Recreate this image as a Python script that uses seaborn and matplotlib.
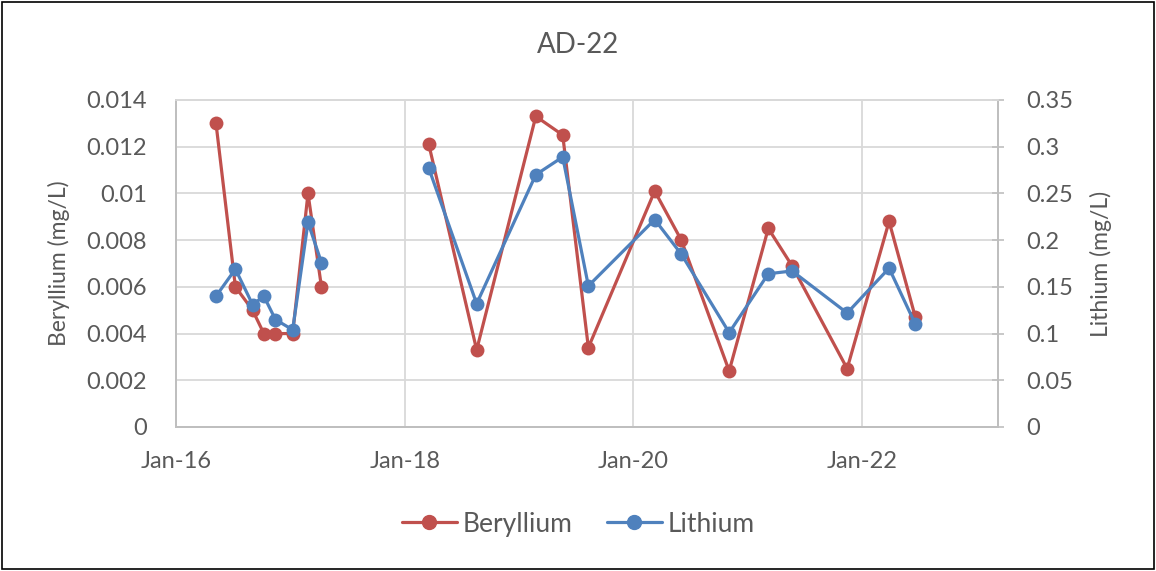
import pandas as pd
import matplotlib.pyplot as plt
import matplotlib.dates as mdates
from matplotlib.lines import Line2D
from matplotlib.patches import Rectangle
import seaborn as sns

# -------------------------------
# Data
# -------------------------------
dates = ['2016-05-08', '2016-07-09', '2016-09-02', '2016-10-08', '2016-11-14',
         '2017-01-08', '2017-02-26', '2017-04-10',
         '2018-03-19', '2018-08-19', '2019-02-24', '2019-05-21', '2019-08-11',
         '2020-03-10', '2020-06-03', '2020-11-03', '2021-03-08', '2021-05-23',
         '2021-11-15', '2022-03-29', '2022-06-21']
beryllium = [0.013, 0.006, 0.005, 0.004, 0.004, 0.004, 0.010, 0.006,
             0.0121, 0.0033, 0.0133, 0.0125, 0.0034,
             0.0101, 0.008, 0.0024, 0.0085, 0.0069, 0.0025, 0.0088, 0.0047]
lithium = [0.14, 0.169, 0.131, 0.14, 0.115, 0.104, 0.219, 0.176,
           0.277, 0.132, 0.27, 0.289, 0.151,
           0.222, 0.185, 0.101, 0.164, 0.167, 0.122, 0.17, 0.11]
# gap in the record between Apr-17 and Mar-18 splits the line in two
segment = [0] * 8 + [1] * 13

be_labels = ['0', '0.002', '0.004', '0.006', '0.008', '0.01', '0.012', '0.014']
li_labels = ['0', '0.05', '0.1', '0.15', '0.2', '0.25', '0.3', '0.35']
x_ticks = ['2016-01-01', '2018-01-01', '2020-01-01', '2022-01-01']

df = pd.DataFrame({'Date': pd.to_datetime(dates), 'Beryllium': beryllium,
                   'Lithium': lithium, 'Segment': segment})

RED = '#C0504D'
BLUE = '#4F81BD'
TXT = '#595959'
GRID = '#D9D9D9'
SPINE = '#BFBFBF'

sns.set_style('white')
plt.rcParams['font.family'] = ['Lato', 'DejaVu Sans']

fig = plt.figure(figsize=(11.56, 5.71), dpi=100)
ax = fig.add_axes([0.1522, 0.2522, 0.7111, 0.5727])
ax2 = ax.twinx()

sns.lineplot(data=df, x='Date', y='Beryllium', units='Segment', estimator=None,
             color=RED, marker='o', markersize=10, linewidth=2.3,
             markeredgewidth=0, ax=ax, zorder=3)
sns.lineplot(data=df, x='Date', y='Lithium', units='Segment', estimator=None,
             color=BLUE, marker='o', markersize=10, linewidth=2.3,
             markeredgewidth=0, ax=ax2, zorder=3)

# left axis
ax.set_ylim(0, 0.014)
ax.set_yticks([float(v) for v in be_labels])
ax.set_yticklabels(be_labels)
ax.set_xlim(pd.Timestamp('2016-01-01'), pd.Timestamp('2023-03-12'))
ax.set_xticks(pd.to_datetime(x_ticks))
ax.xaxis.set_major_formatter(mdates.DateFormatter('%b-%y'))
ax.grid(True, color=GRID, linewidth=1.3)
ax.set_axisbelow(True)
ax.set_xlabel('')
ax.set_ylabel('Beryllium (mg/L)', fontsize=16.5, color=TXT)
ax.yaxis.set_label_coords(-0.129, 0.5)
ax.tick_params(axis='y', length=0, labelsize=17, colors=TXT, pad=21)
ax.tick_params(axis='x', length=0, labelsize=17, colors=TXT, pad=17)

# right axis
ax2.set_ylim(0, 0.35)
ax2.set_yticks([float(v) for v in li_labels])
ax2.set_yticklabels(li_labels)
ax2.set_ylabel('Lithium (mg/L)', fontsize=16.5, color=TXT)
ax2.yaxis.set_label_coords(1.112, 0.5)
ax2.tick_params(axis='y', direction='inout', length=8, width=1.2, color=SPINE,
                labelsize=17, labelcolor=TXT, pad=16)
ax2.grid(False)

for a in (ax, ax2):
    for side, sp in a.spines.items():
        sp.set_color(SPINE)
        sp.set_linewidth(1.3)
    a.spines['top'].set_color(GRID)

fig.text(0.5, 0.921, 'AD-22', ha='center', va='center', fontsize=20, color=TXT)

handles = [Line2D([], [], color=RED, marker='o', markersize=10, linewidth=2.3),
           Line2D([], [], color=BLUE, marker='o', markersize=10, linewidth=2.3)]
fig.legend(handles, ['Beryllium', 'Lithium'], loc='center', ncol=2,
           bbox_to_anchor=(0.5, 0.082), frameon=False, fontsize=19,
           labelcolor=TXT, handlelength=2.1, columnspacing=1.3, handletextpad=0.2)

# chart border
fig.patches.append(Rectangle((0.002, 0.003), 0.996, 0.994, transform=fig.transFigure,
                             fill=False, edgecolor='black', linewidth=1.2))

fig.savefig('out.png', dpi=100)
